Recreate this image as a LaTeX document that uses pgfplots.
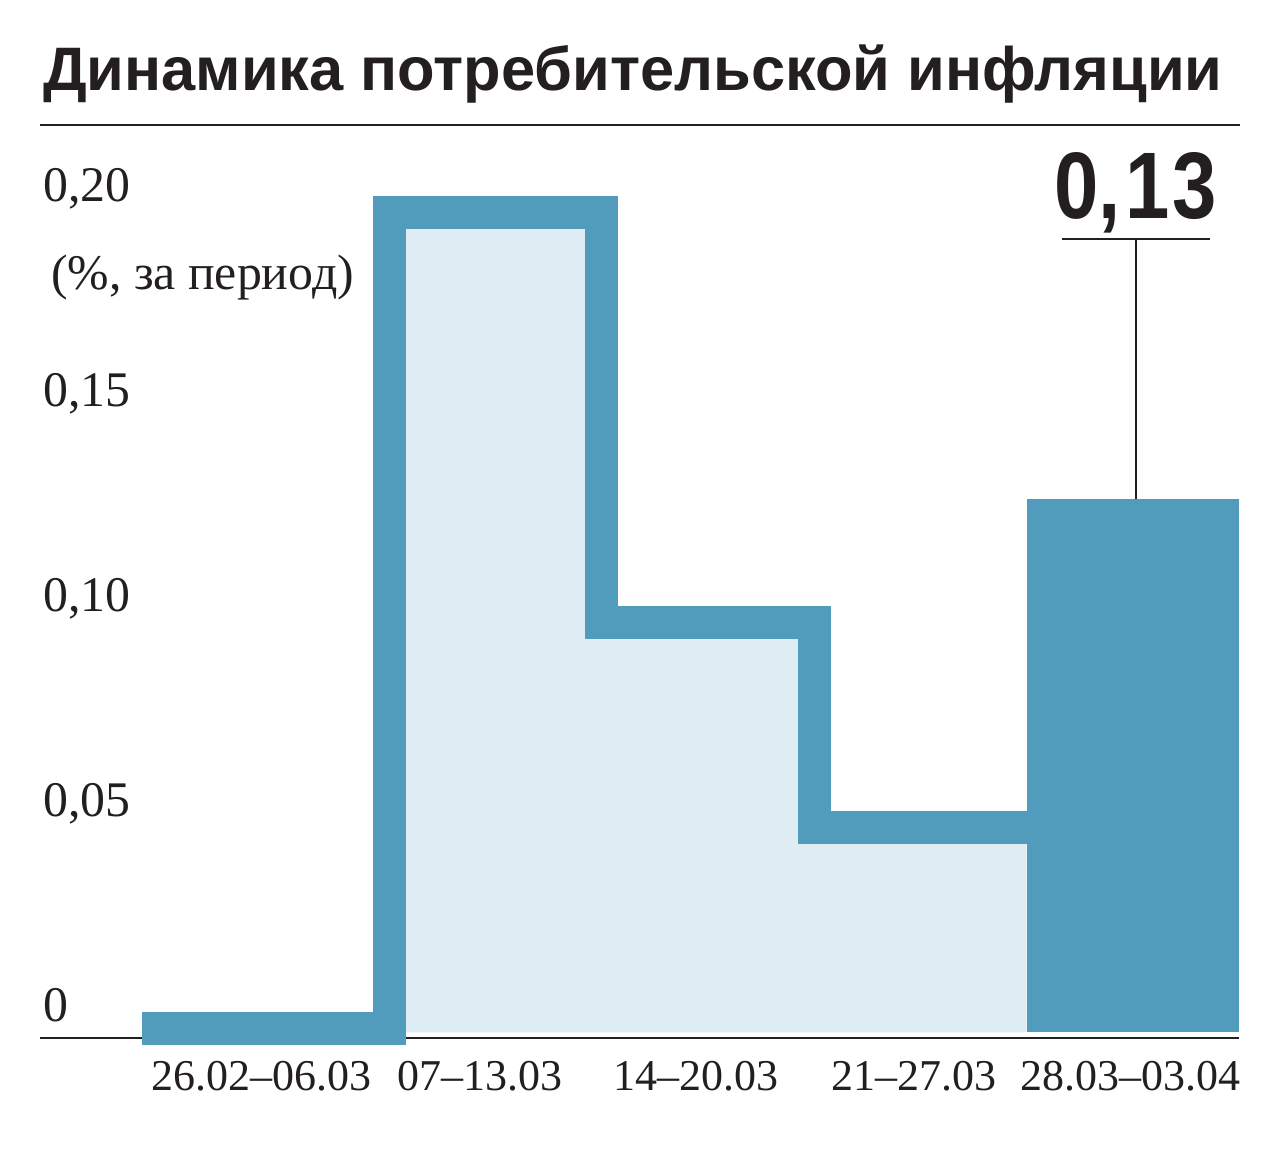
\documentclass[border=0pt]{standalone}
\usepackage{fontspec}
\setmainfont{Liberation Serif}
\newfontfamily\titlefont{Liberation Sans}
\usepackage{graphicx}
\usepackage{pgfplots}
\pgfplotsset{compat=1.18}
\definecolor{barblue}{RGB}{81,156,188}
\definecolor{lightblue}{RGB}{222,236,243}
\definecolor{ink}{RGB}{35,31,32}
\begin{document}
\begin{tikzpicture}
\useasboundingbox (0,0) rectangle (640pt,575.5pt);
\node[anchor=base west, inner sep=0, text=ink] at (21.35pt,530.15pt) {\resizebox{589.6pt}{!}{\titlefont\bfseries Динамика потребительской инфляции}};
\draw[ink, line width=1pt] (20pt,513pt) -- (620pt,513pt);
\node[anchor=base west, inner sep=0, text=ink, font=\fontsize{24.9pt}{28pt}\selectfont] at (25.35pt,430.5pt) {(\%, за период)};
\begin{axis}[
  at={(20pt,56.175pt)}, anchor=south west,
  scale only axis, width=599.55pt, height=454.075pt,
  xmin=-0.6455, xmax=5.0, ymin=-0.0015, ymax=0.22,
  clip=false,
  axis line style={draw=none}, tick style={draw=none},
  ytick={0,0.05,0.1,0.15,0.2},
  yticklabels={0,{0,05},{0,10},{0,15},{0,20}},
  yticklabel style={anchor=base west, inner sep=0, xshift=1.5pt, yshift=5.5pt, font=\fontsize{24.9pt}{28pt}\selectfont, text=ink},
  xtick={0.395,1.426,2.443,3.47,4.49},
  xticklabels={26.02--06.03, 07--13.03, 14--20.03, 21--27.03, 28.03--03.04},
  xticklabel style={anchor=base, inner sep=0, yshift=-25.7pt, font=\fontsize{22pt}{26pt}\selectfont, text=ink},
]
\draw[ink, line width=1.25pt] (axis cs:-0.6455,-0.00134) -- (axis cs:5.0,-0.00134);
\addplot[const plot, fill=lightblue, draw=none] coordinates {(1,0.2)(2,0.1)(3,0.05)(4,0.05)} \closedcycle;
\addplot[fill=barblue, draw=none] coordinates {(4,0.13)(5,0.13)} \closedcycle;
\addplot[const plot, barblue, line width=16.5pt, line join=miter, line cap=butt, mark=none] coordinates {(-0.165,0.001)(1,0.2)(2,0.1)(3,0.05)(4,0.05)};
\draw[ink, line width=1pt] (axis cs:4.515,0.13) -- (axis cs:4.515,0.1936);
\draw[ink, line width=1pt] (axis cs:4.166,0.1936) -- (axis cs:4.863,0.1936);
\node[anchor=base west, inner sep=0, text=ink] at (axis cs:4.128,0.1986) {\resizebox{81.5pt}{33pt}{\titlefont\bfseries 0,\kern0.06em1\kern0.04em3}};
\end{axis}
\end{tikzpicture}
\end{document}
